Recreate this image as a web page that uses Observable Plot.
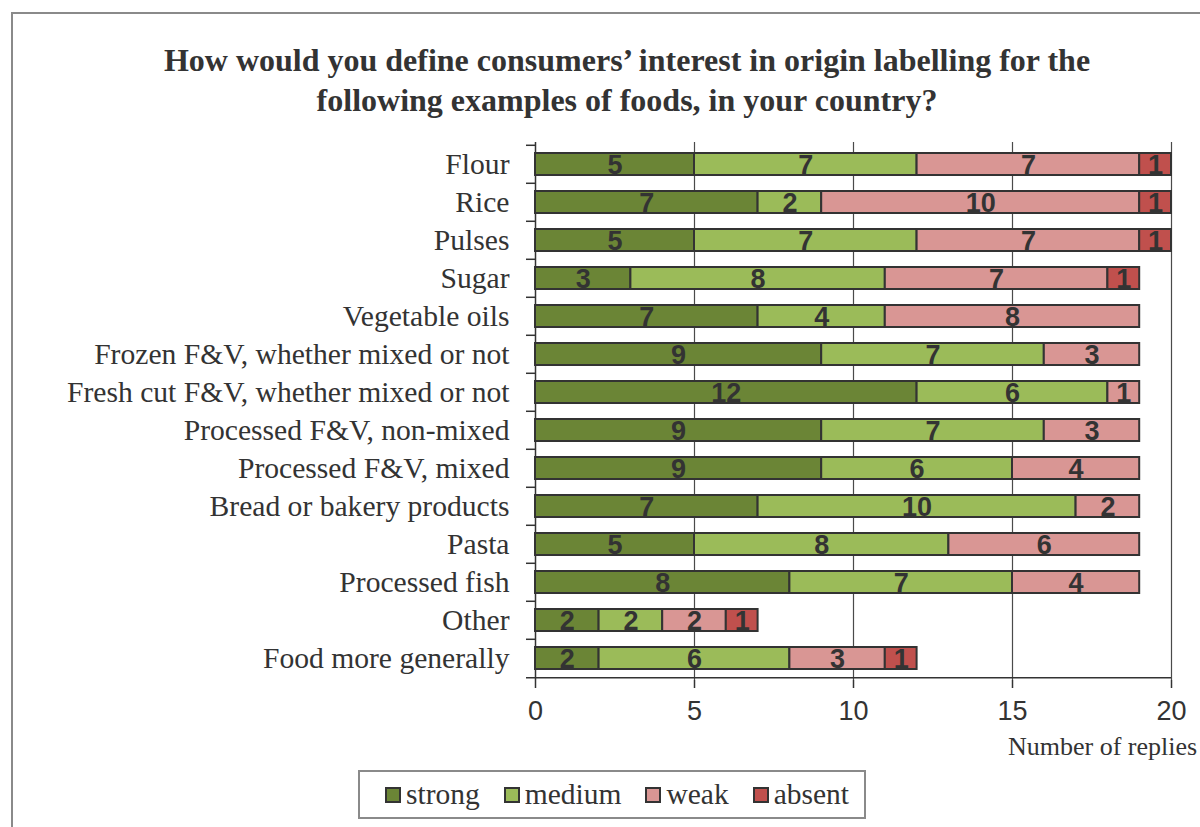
<!DOCTYPE html>
<html>
<head>
<meta charset="utf-8">
<script src="https://cdn.jsdelivr.net/npm/d3@7"></script>
<script src="https://cdn.jsdelivr.net/npm/@observablehq/plot@0.6"></script>
<style>
  html, body { margin: 0; padding: 0; background: #fff; width: 1200px; height: 827px; overflow: hidden; }
  #frame { position: absolute; left: 11px; top: 12px; width: 1300px; height: 900px; border: 2px solid #8a8a8a; box-sizing: border-box; }
  #title { position: absolute; left: 0; width: 1254px; top: 40px; text-align: center; font-family: "Liberation Serif", serif; font-weight: bold; font-size: 32px; line-height: 40px; color: #333; white-space: nowrap; }
  #chart { position: absolute; left: 0; top: 0; }
  #xlabel { position: absolute; left: 1008px; top: 732px; font-family: "Liberation Serif", serif; font-size: 26px; color: #333; white-space: nowrap; }
  #legend { position: absolute; left: 358px; top: 770px; width: 508px; height: 49px; border: 2px solid #8a8a8a; box-sizing: border-box; display: flex; align-items: center; justify-content: center; gap: 24px; padding-left: 10px; font-family: "Liberation Serif", serif; font-size: 29.5px; color: #333; background: #fff; }
  .item { display: flex; align-items: center; gap: 5px; }
  .sw { width: 12px; height: 12px; border: 2.5px solid #333; }
</style>
</head>
<body>
<div id="frame"></div>
<div id="title">How would you define consumers’ interest in origin labelling for the<br>following examples of foods, in your country?</div>
<div id="chart"></div>
<div id="xlabel">Number of replies</div>
<div id="legend"></div>
<script>
const categories = [
  "Flour", "Rice", "Pulses", "Sugar", "Vegetable oils",
  "Frozen F&V, whether mixed or not", "Fresh cut F&V, whether mixed or not",
  "Processed F&V, non-mixed", "Processed F&V, mixed", "Bread or bakery products",
  "Pasta", "Processed fish", "Other", "Food more generally"
];
const levels = ["strong", "medium", "weak", "absent"];
const colors = ["#6b8536", "#9bbb59", "#d99694", "#c0504d"];
const strong = [5, 7, 5, 3, 7, 9, 12, 9, 9, 7, 5, 8, 2, 2];
const medium = [7, 2, 7, 8, 4, 7, 6, 7, 6, 10, 8, 7, 2, 6];
const weak   = [7, 10, 7, 7, 8, 3, 1, 3, 4, 2, 6, 4, 2, 3];
const absent = [1, 1, 1, 1, 0, 0, 0, 0, 0, 0, 0, 0, 1, 1];
const xTicks = [0, 5, 10, 15, 20];
const gridTicks = [5, 10, 15, 20];

const series = [strong, medium, weak, absent];
const data = [];
categories.forEach((c, i) => {
  levels.forEach((l, j) => {
    if (series[j][i] > 0) data.push({category: c, level: l, value: series[j][i]});
  });
});

const width = 1200, height = 730;
const marginTop = 142, marginBottom = 50, marginLeft = 535, marginRight = 29;
const bw = (height - marginTop - marginBottom) / categories.length;
const ink = "#333";
const sans = "'Liberation Sans', Arial, sans-serif";

const chart = Plot.plot({
  width, height, marginTop, marginBottom, marginLeft, marginRight,
  style: {background: "transparent", color: ink, overflow: "visible"},
  x: {domain: [0, 20]},
  y: {domain: categories, padding: 0},
  color: {domain: levels, range: colors},
  marks: [
    Plot.ruleX(gridTicks, {stroke: "#4a4a4a", strokeWidth: 1.2}),
    Plot.ruleX([0], {stroke: ink, strokeWidth: 1.5}),
    Plot.ruleY(categories, {y: d => d, x1: 0, x2: 0, insetLeft: -9, dy: -bw / 2, stroke: ink, strokeWidth: 1.5}),
    Plot.ruleY([categories[categories.length - 1]], {y: d => d, x1: 0, x2: 20, insetLeft: -9, dy: bw / 2, stroke: ink, strokeWidth: 1.5}),
    Plot.barX(data, Plot.stackX({x: "value", y: "category", fill: "level", order: levels, stroke: ink, strokeWidth: 2, insetTop: 8, insetBottom: 8})),
    Plot.text(data, Plot.stackX({x: "value", y: "category", z: "level", order: levels, text: d => String(d.value), fill: ink, fontSize: 27, fontWeight: "bold", fontFamily: sans, dy: 1})),
    Plot.axisX({ticks: xTicks, tickSize: 8, tickPadding: 12, tickFormat: d => String(d), fontSize: 27, fontFamily: sans, label: null, stroke: ink, strokeWidth: 1.5, fill: ink}),
    Plot.axisY({tickSize: 0, tickPadding: 26, fontSize: 29.6, fontFamily: "'Liberation Serif', serif", label: null, fill: ink})
  ]
});
document.getElementById("chart").appendChild(chart);

const legend = document.getElementById("legend");
levels.forEach((l, i) => {
  const item = document.createElement("div");
  item.className = "item";
  const sw = document.createElement("div");
  sw.className = "sw";
  sw.style.background = colors[i];
  const t = document.createElement("span");
  t.textContent = l;
  item.appendChild(sw);
  item.appendChild(t);
  legend.appendChild(item);
});
</script>
</body>
</html>
